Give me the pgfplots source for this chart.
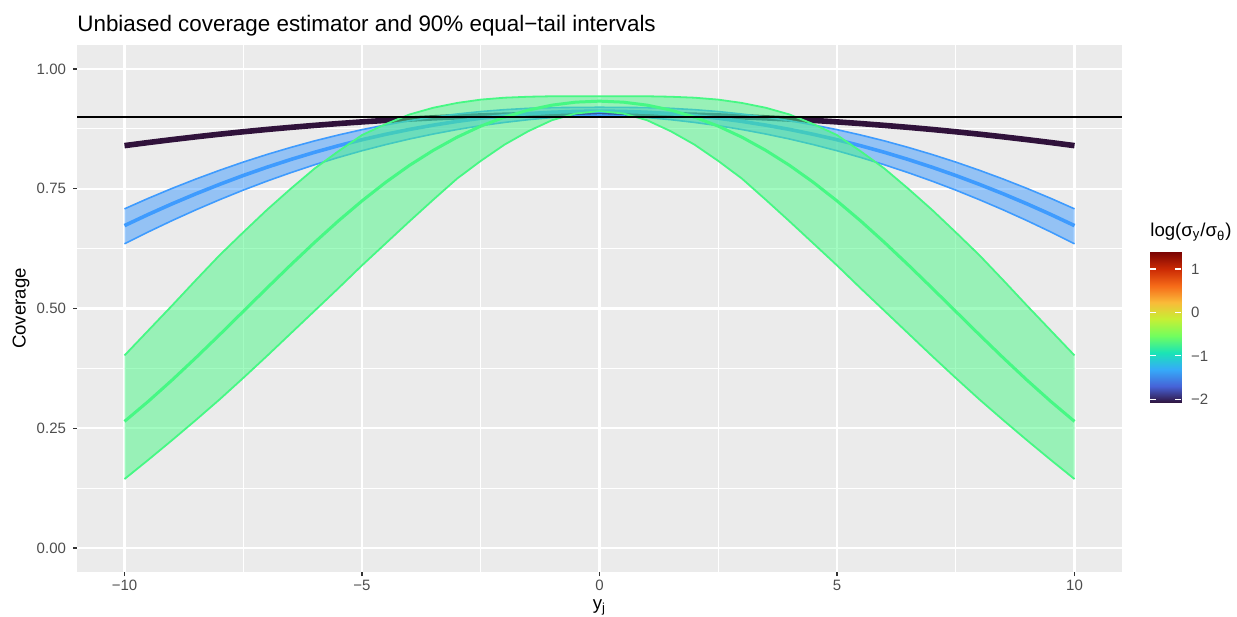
\documentclass[border=0pt]{standalone}
\usepackage{pgfplots}
\pgfplotsset{compat=1.18}
\usepackage{pgfplotstable}
\usepackage{fontspec}
\setmainfont{Liberation Sans}
\definecolor{bgc}{HTML}{EBEBEB}
\definecolor{dkc}{HTML}{30123B}
\definecolor{blc}{HTML}{3E9BFE}
\definecolor{grc}{HTML}{46F884}
\definecolor{tkc}{HTML}{333333}
\definecolor{tlc}{HTML}{4D4D4D}

\pgfplotstableread{
x d bc bU bL gc gU gL
-10 0.8400 0.6730 0.7080 0.6350 0.2643 0.402 0.144
-9.5 0.8464 0.6963 0.7299 0.6598 0.3061 0.454 0.184
-9 0.8525 0.7184 0.7506 0.6834 0.3505 0.506 0.225
-8.5 0.8583 0.7393 0.7701 0.7058 0.3970 0.559 0.267
-8 0.8638 0.7590 0.7884 0.7270 0.4450 0.611 0.310
-7.5 0.8689 0.7776 0.8056 0.7471 0.4939 0.659 0.355
-7 0.8737 0.7949 0.8215 0.7659 0.5428 0.706 0.401
-6.5 0.8781 0.8110 0.8362 0.7835 0.5910 0.750 0.448
-6 0.8822 0.8260 0.8498 0.8000 0.6378 0.792 0.495
-5.5 0.8860 0.8397 0.8621 0.8152 0.6826 0.828 0.542
-5 0.8895 0.8523 0.8733 0.8293 0.7246 0.862 0.590
-4.5 0.8926 0.8636 0.8832 0.8421 0.7635 0.885 0.636
-4 0.8954 0.8738 0.8920 0.8538 0.7988 0.905 0.682
-3.5 0.8979 0.8827 0.8995 0.8642 0.8301 0.919 0.727
-3 0.9001 0.8905 0.9059 0.8735 0.8575 0.929 0.771
-2.5 0.9019 0.8971 0.9111 0.8816 0.8806 0.936 0.808
-2 0.9034 0.9024 0.9150 0.8884 0.8995 0.940 0.842
-1.5 0.9045 0.9066 0.9178 0.8941 0.9141 0.942 0.870
-1 0.9053 0.9096 0.9192 0.8986 0.9245 0.943 0.893
-0.5 0.9058 0.9114 0.9198 0.9019 0.9307 0.943 0.907
0 0.9060 0.9120 0.9200 0.9040 0.9328 0.943 0.912
0.5 0.9058 0.9114 0.9198 0.9019 0.9307 0.943 0.907
1 0.9053 0.9096 0.9192 0.8986 0.9245 0.943 0.893
1.5 0.9045 0.9066 0.9178 0.8941 0.9141 0.942 0.870
2 0.9034 0.9024 0.9150 0.8884 0.8995 0.940 0.842
2.5 0.9019 0.8971 0.9111 0.8816 0.8806 0.936 0.808
3 0.9001 0.8905 0.9059 0.8735 0.8575 0.929 0.771
3.5 0.8979 0.8827 0.8995 0.8642 0.8301 0.919 0.727
4 0.8954 0.8738 0.8920 0.8538 0.7988 0.905 0.682
4.5 0.8926 0.8636 0.8832 0.8421 0.7635 0.885 0.636
5 0.8895 0.8523 0.8733 0.8293 0.7246 0.862 0.590
5.5 0.8860 0.8397 0.8621 0.8152 0.6826 0.828 0.542
6 0.8822 0.8260 0.8498 0.8000 0.6378 0.792 0.495
6.5 0.8781 0.8110 0.8362 0.7835 0.5910 0.750 0.448
7 0.8737 0.7949 0.8215 0.7659 0.5428 0.706 0.401
7.5 0.8689 0.7776 0.8056 0.7471 0.4939 0.659 0.355
8 0.8638 0.7590 0.7884 0.7270 0.4450 0.611 0.310
8.5 0.8583 0.7393 0.7701 0.7058 0.3970 0.559 0.267
9 0.8525 0.7184 0.7506 0.6834 0.3505 0.506 0.225
9.5 0.8464 0.6963 0.7299 0.6598 0.3061 0.454 0.184
10 0.8400 0.6730 0.7080 0.6350 0.2643 0.402 0.144
}\data

% ribbon polygons: upper edge left to right, then lower edge right to left
\pgfplotstableread{
x y
-10 0.7080
-9 0.7506
-8 0.7884
-7 0.8215
-6 0.8498
-5 0.8733
-4 0.8920
-3 0.9059
-2 0.9150
-1 0.9192
0 0.9200
1 0.9192
2 0.9150
3 0.9059
4 0.8920
5 0.8733
6 0.8498
7 0.8215
8 0.7884
9 0.7506
10 0.7080
10 0.6350
9 0.6834
8 0.7270
7 0.7659
6 0.8000
5 0.8293
4 0.8538
3 0.8735
2 0.8884
1 0.8986
0 0.9040
-1 0.8986
-2 0.8884
-3 0.8735
-4 0.8538
-5 0.8293
-6 0.8000
-7 0.7659
-8 0.7270
-9 0.6834
-10 0.6350
}\bluerib

\pgfplotstableread{
x y
-10 0.402
-9.5 0.454
-9 0.506
-8.5 0.559
-8 0.611
-7.5 0.659
-7 0.706
-6.5 0.750
-6 0.792
-5.5 0.828
-5 0.862
-4.5 0.885
-4 0.905
-3.5 0.919
-3 0.929
-2.5 0.936
-2 0.940
-1.5 0.942
-1 0.943
0 0.943
1 0.943
1.5 0.942
2 0.940
2.5 0.936
3 0.929
3.5 0.919
4 0.905
4.5 0.885
5 0.862
5.5 0.828
6 0.792
6.5 0.750
7 0.706
7.5 0.659
8 0.611
8.5 0.559
9 0.506
9.5 0.454
10 0.402
10 0.144
9.5 0.184
9 0.225
8.5 0.267
8 0.310
7.5 0.355
7 0.401
6.5 0.448
6 0.495
5.5 0.542
5 0.590
4.5 0.636
4 0.682
3.5 0.727
3 0.771
2.5 0.808
2 0.842
1.5 0.870
1 0.893
0.5 0.907
0 0.912
-0.5 0.907
-1 0.893
-1.5 0.870
-2 0.842
-2.5 0.808
-3 0.771
-3.5 0.727
-4 0.682
-4.5 0.636
-5 0.590
-5.5 0.542
-6 0.495
-6.5 0.448
-7 0.401
-7.5 0.355
-8 0.310
-8.5 0.267
-9 0.225
-9.5 0.184
-10 0.144
}\greenrib

\pgfplotsset{
  turbomap/.style={colormap={turbo}{rgb255=(48,18,59) rgb255=(70,98,215) rgb255=(54,170,249) rgb255=(26,228,182) rgb255=(114,254,94) rgb255=(199,239,52) rgb255=(250,186,57) rgb255=(246,107,25) rgb255=(203,42,4) rgb255=(122,4,3)}},
}

\begin{document}
\begin{tikzpicture}[x=1pt,y=1pt]
\path[use as bounding box] (0,0) rectangle (618.5,308);
\begin{axis}[
  at={(38.5pt,22pt)}, anchor=south west,
  scale only axis, width=522.5pt, height=263.5pt,
  xmin=-11, xmax=11, ymin=-0.05, ymax=1.05,
  axis background/.style={fill=bgc},
  axis line style={draw=none},
  xtick={-10,-5,0,5,10}, xticklabels={−10,−5,0,5,10},
  ytick={0,0.25,0.5,0.75,1}, yticklabels={0.00,0.25,0.50,0.75,1.00},
  minor xtick={-7.5,-2.5,2.5,7.5}, minor ytick={0.125,0.375,0.625,0.875},
  grid=both,
  major grid style={white, line width=1.1pt},
  minor grid style={white, line width=0.55pt},
  tick align=outside, tick pos=left,
  major tick length=2pt, minor tick length=0pt,
  tick style={tkc, line width=0.55pt},
  ticklabel style={font=\fontsize{7.5}{9}\selectfont, text=tlc},
  xticklabel style={yshift=1.5pt},
]
\addplot[dkc, line width=2.8pt] table[x=x,y=d]{\data};
\addplot[draw=none, fill=blc, fill opacity=0.5] table[x=x,y=y]{\bluerib};
\addplot[blc, line width=0.8pt] table[x=x,y=bU]{\data};
\addplot[blc, line width=0.8pt] table[x=x,y=bL]{\data};
\addplot[blc, line width=1.8pt] table[x=x,y=bc]{\data};
\addplot[draw=none, fill=grc, fill opacity=0.5] table[x=x,y=y]{\greenrib};
\addplot[grc, line width=0.9pt] table[x=x,y=gU]{\data};
\addplot[grc, line width=0.9pt] table[x=x,y=gL]{\data};
\addplot[grc, line width=1.5pt] table[x=x,y=gc]{\data};
\addplot[black, line width=1pt] coordinates {(-11,0.9) (11,0.9)};
\end{axis}
% colour bar as its own small axis
\begin{axis}[
  at={(575pt,106.65pt)}, anchor=south west,
  scale only axis, width=15.5pt, height=75.2pt,
  xmin=0, xmax=1, ymin=-2.0794, ymax=1.3863,
  turbomap, point meta min=-2.0794, point meta max=1.3863,
  axis line style={draw=none},
  axis on top,
  xtick=\empty,
  ytick={-2,-1,0,1}, yticklabels={−2,−1,0,1},
  ytick pos=both, yticklabel pos=right,
  tick align=inside, major tick length=3pt,
  tick style={white, line width=0.6pt},
  yticklabel style={font=\fontsize{7.5}{9}\selectfont, text=tlc, xshift=1.5pt},
]
\addplot[surf, shader=interp, point meta=y] coordinates {
(0,-2.0794) (1,-2.0794)

(0,-1.5) (1,-1.5)

(0,-1) (1,-1)

(0,-0.5) (1,-0.5)

(0,0) (1,0)

(0,0.5) (1,0.5)

(0,1) (1,1)

(0,1.3863) (1,1.3863)
};
\end{axis}
\node[anchor=base west, inner sep=0pt, font=\fontsize{11.2}{13}\selectfont] at (38.5,292) {Unbiased coverage estimator and 90\% equal−tail intervals};
\node[anchor=base, inner sep=0pt, font=\fontsize{9.3}{11}\selectfont] at (299.75,3.2) {y\textsubscript{j}};
\node[rotate=90, anchor=center, inner sep=0pt, font=\fontsize{9.3}{11}\selectfont] at (10.5,153.75) {Coverage};
\node[anchor=base west, inner sep=0pt, font=\fontsize{9.3}{11}\selectfont] at (575,189.6) {log(σ\textsubscript{y}/σ\textsubscript{θ})};
\end{tikzpicture}
\end{document}
